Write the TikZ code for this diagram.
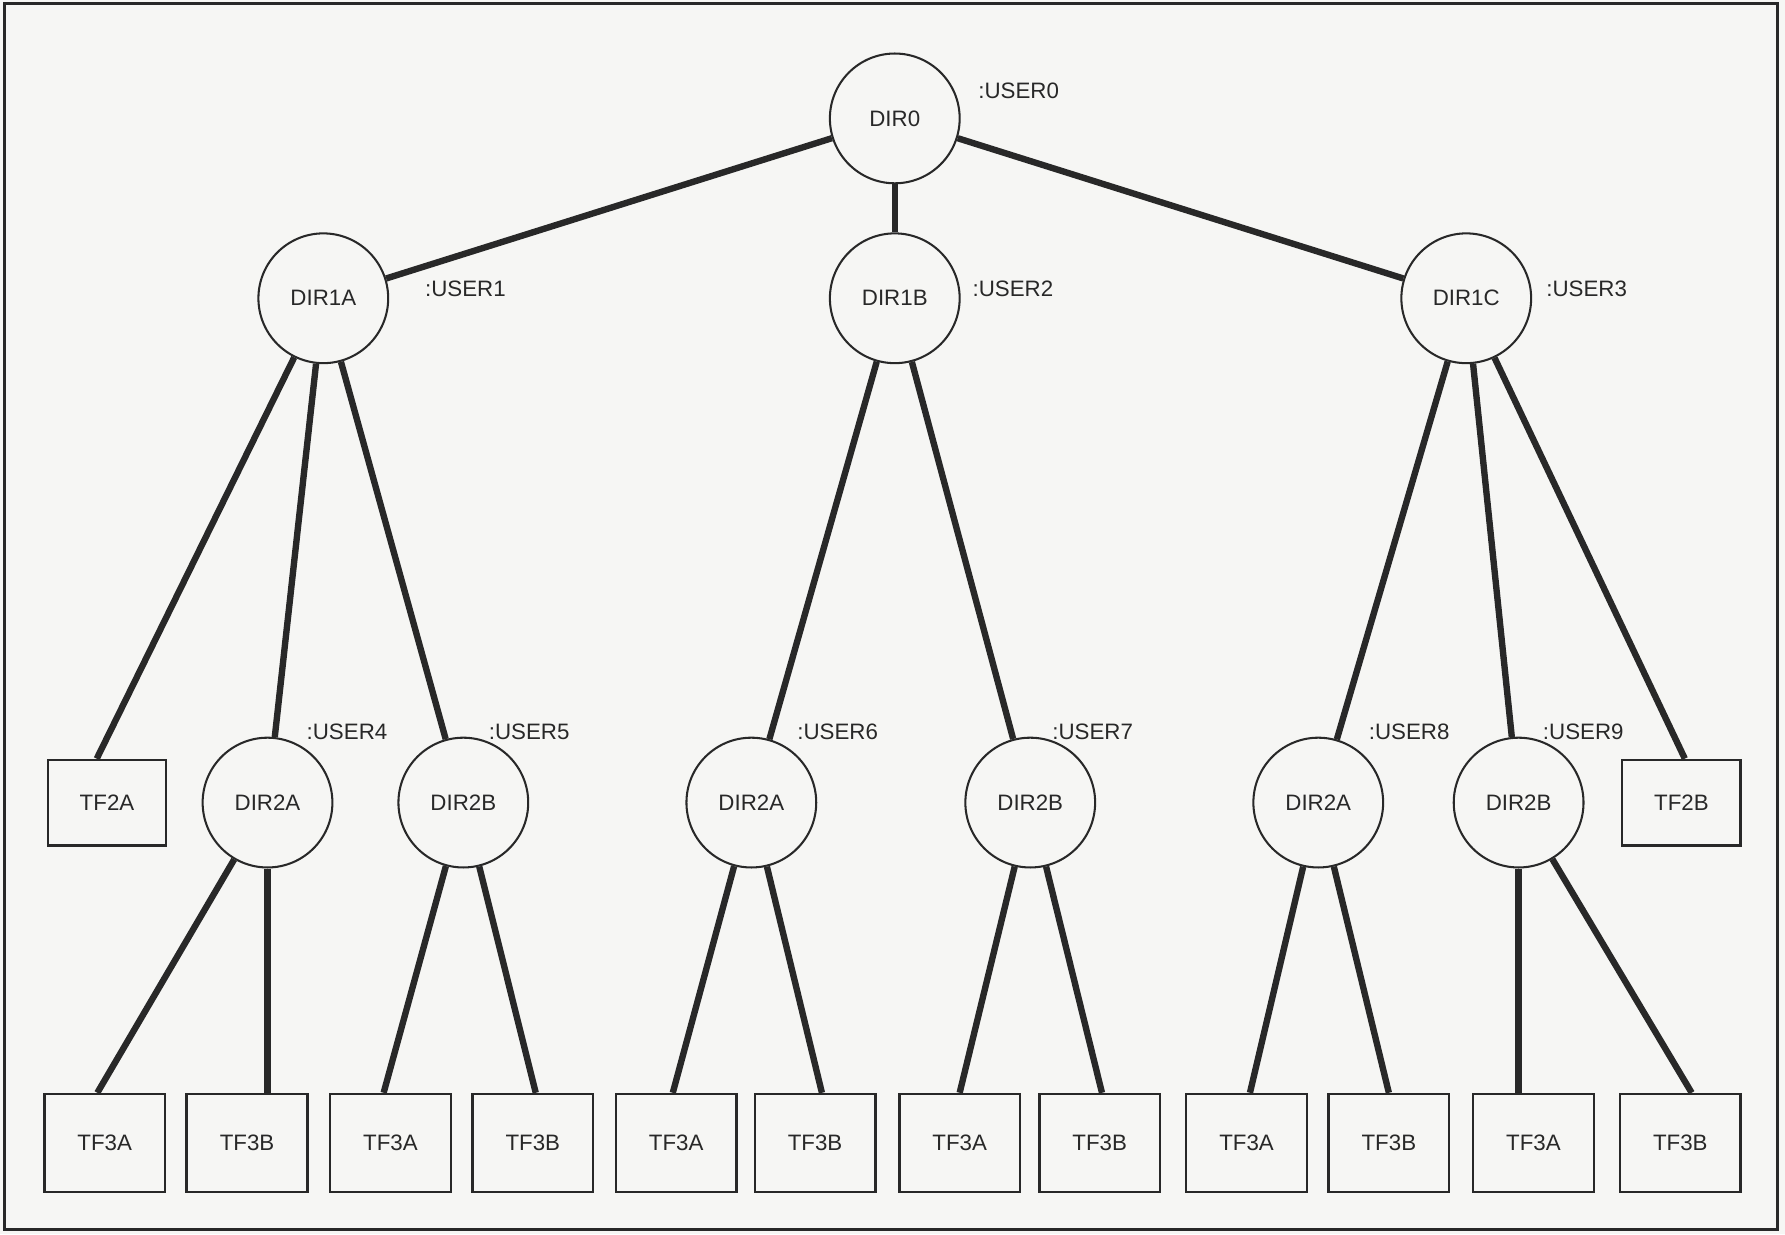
\documentclass[tikz,border=0pt]{standalone}
\usepackage{fontspec}
\setmainfont{Liberation Sans}
\definecolor{ink}{RGB}{40,40,40}
\definecolor{paper}{RGB}{246,246,244}
\begin{document}
\begin{tikzpicture}[x=0.5pt,y=-0.5pt,
  lbl/.style={font=\fontsize{9.8}{11}\selectfont,text=ink},
  dir/.style={circle,draw=ink,line width=0.9pt,minimum size=57pt,inner sep=0pt,lbl},
  tfbox/.style={rectangle,draw=ink,line width=1.1pt,minimum width=53pt,minimum height=43pt,inner sep=0pt,lbl},
  tfsmall/.style={tfbox,minimum width=52pt,minimum height=37.5pt},
  usr/.style={anchor=west,inner sep=0pt,lbl},
  link/.style={draw=ink,line width=2.8pt}]
\useasboundingbox (0,0) rectangle (1568,1084);
\fill[paper] (0,0) rectangle (1568,1084);
\draw[ink,line width=1.3pt] (4,3) rectangle (1561,1080);

% directories
\node[dir] (d0)  at (786,104) {DIR0};
\node[dir] (d1a) at (284,262) {DIR1A};
\node[dir] (d1b) at (786,262) {DIR1B};
\node[dir] (d1c) at (1288,262) {DIR1C};
\node[dir] (d2a1) at (235,705) {DIR2A};
\node[dir] (d2b1) at (407,705) {DIR2B};
\node[dir] (d2a2) at (660,705) {DIR2A};
\node[dir] (d2b2) at (905,705) {DIR2B};
\node[dir] (d2a3) at (1158,705) {DIR2A};
\node[dir] (d2b3) at (1334,705) {DIR2B};

% user labels
\node[usr] (u0) at (859,80) {:USER0};
\node[usr] (u1) at (373,254) {:USER1};
\node[usr] (u2) at (854,254) {:USER2};
\node[usr] (u3) at (1358,254) {:USER3};
\node[usr] (u4) at (269,643) {:USER4};
\node[usr] (u5) at (429,643) {:USER5};
\node[usr] (u6) at (700,643) {:USER6};
\node[usr] (u7) at (924,643) {:USER7};
\node[usr] (u8) at (1202,643) {:USER8};
\node[usr] (u9) at (1355,643) {:USER9};

% files
\node[tfsmall] (tf2a) at (94,705) {TF2A};
\node[tfsmall] (tf2b) at (1477,705) {TF2B};
\node[tfbox] (b1)  at (92,1004)  {TF3A};
\node[tfbox] (b2)  at (217,1004) {TF3B};
\node[tfbox] (b3)  at (343,1004) {TF3A};
\node[tfbox] (b4)  at (468,1004) {TF3B};
\node[tfbox] (b5)  at (594,1004) {TF3A};
\node[tfbox] (b6)  at (716,1004) {TF3B};
\node[tfbox] (b7)  at (843,1004) {TF3A};
\node[tfbox] (b8)  at (966,1004) {TF3B};
\node[tfbox] (b9)  at (1095,1004) {TF3A};
\node[tfbox] (b10) at (1220,1004) {TF3B};
\node[tfbox] (b11) at (1347,1004) {TF3A};
\node[tfbox] (b12) at (1476,1004) {TF3B};

% connectors
\draw[link] (d0) -- (d1a);
\draw[link] (d0) -- (d1b);
\draw[link] (d0) -- (d1c);

\draw[link] (d1a) -- ([xshift=-4.5pt]tf2a.north);
\draw[link] (d1a) -- (d2a1);
\draw[link] (d1a) -- (d2b1);
\draw[link] (d1b) -- (d2a2);
\draw[link] (d1b) -- (d2b2);
\draw[link] (d1c) -- (d2a3);
\draw[link] (d1c) -- (d2b3);
\draw[link] (d1c) -- ([xshift=1.5pt]tf2b.north);

\draw[link] (d2a1) -- ([xshift=-3.25pt]b1.north);
\draw[link] (d2a1) -- (d2a1 |- b2.north);
\draw[link] (d2b1) -- ([xshift=-3pt]b3.north);
\draw[link] (d2b1) -- ([xshift=1.3pt]b4.north);
\draw[link] (d2a2) -- ([xshift=-1.5pt]b5.north);
\draw[link] (d2a2) -- ([xshift=3pt]b6.north);
\draw[link] (d2b2) -- (b7.north);
\draw[link] (d2b2) -- ([xshift=1pt]b8.north);
\draw[link] (d2a3) -- ([xshift=1.5pt]b9.north);
\draw[link] (d2a3) -- (b10.north);
\draw[link] (d2b3) -- (d2b3 |- b11.north);
\draw[link] (d2b3) -- ([xshift=5pt]b12.north);
\end{tikzpicture}
\end{document}
